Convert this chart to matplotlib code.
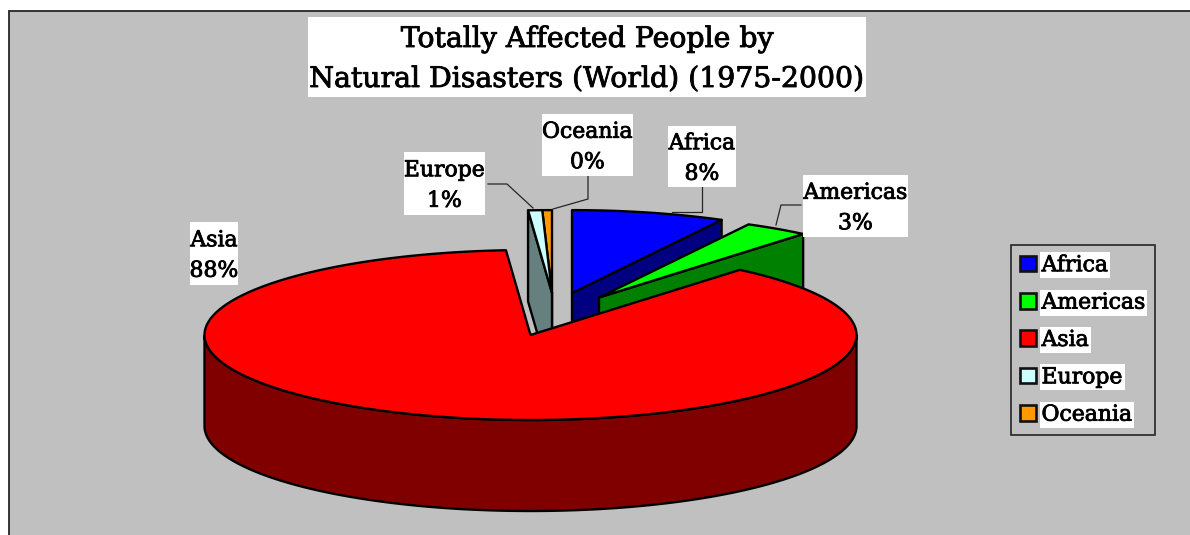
import numpy as np
import matplotlib
matplotlib.use("Agg")
import matplotlib.pyplot as plt
import matplotlib.patheffects as pe
from matplotlib.patches import Polygon, Rectangle, Patch

plt.rcParams['font.family'] = ['DejaVu Serif']

# ---- data ----
categories = ["Africa", "Americas", "Asia", "Europe", "Oceania"]
values = [7.8, 3.3, 87.7, 0.71, 0.49]
colors = ["#0000FF", "#00FF00", "#FF0000", "#CCFFFF", "#FF9900"]
side_colors = ["#000080", "#008000", "#800000", "#668080", "#804D00"]
title_lines = ["Totally Affected People by", "Natural Disasters (World) (1975-2000)"]

# ---- layout (pixels) ----
W, H = 1190, 535
CX, CY, RX, RY, DEPTH = 530.5, 335.0, 326.0, 85.0, 91.0
explode_px = [(41.5, -42), (68.5, -37.5), (0, 0), (21.5, -42), (21.5, -42)]
radius_scale = [0.975, 0.975, 1.0, 0.975, 0.975]
draw_order = [0, 1, 4, 3, 2]
label_boxes = [(668, 126, 736, 187), (803, 175, 908, 237), (190, 222, 238, 285),
               (404, 152, 485, 215), (542, 114, 633, 176)]
leaders = [
    [(702, 187), (702, 212), (672, 212)],
    [(801, 205), (781, 205), (776, 225)],
    None,
    [(488, 184), (507, 184), (533, 208)],
    [(588, 176), (588, 199), (553, 209)],
]
LW = 1.7
LABEL_SIZE = 15.8
heavier = [pe.withStroke(linewidth=0.6, foreground="black")]

fig = plt.figure(figsize=(W / 100, H / 100), dpi=100, facecolor="white")
ax = fig.add_axes([0, 0, 1, 1])
ax.set_xlim(0, W)
ax.set_ylim(H, 0)
ax.axis("off")

ax.add_patch(Rectangle((9, 11), W + 20, H + 20, fc="#C0C0C0", ec="#262626", lw=1.3, zorder=0))

# slice angles from the values, clockwise from twelve o'clock
fractions = np.array(values) / np.sum(values)
ends = 90 - 360 * np.cumsum(fractions)
starts = np.concatenate([[90.0], ends[:-1]])


def pt(angle, ox, oy, s, drop=0.0):
    t = np.radians(angle)
    return (ox + s * RX * np.cos(t), oy - s * RY * np.sin(t) + drop)


def add(points, fc, z):
    ax.add_patch(Polygon(points, closed=True, fc=fc, ec="black", lw=LW,
                         joinstyle="round", zorder=z))


z = 2
for i in draw_order:
    a0, a1, s = starts[i], ends[i], radius_scale[i]
    ox, oy = CX + explode_px[i][0], CY + explode_px[i][1]
    apex = (ox, oy)
    apex_low = (ox, oy + DEPTH)
    arc_angles = np.linspace(a0, a1, max(int(abs(a0 - a1) * 1.5), 2) + 1)
    # radial faces that turn toward the viewer
    if np.cos(np.radians(a1)) > 0:
        add([apex, pt(a1, ox, oy, s), pt(a1, ox, oy, s, DEPTH), apex_low], side_colors[i], z)
        z += 1
    if np.cos(np.radians(a0)) < 0:
        add([apex, pt(a0, ox, oy, s), pt(a0, ox, oy, s, DEPTH), apex_low], side_colors[i], z)
        z += 1
    # outer rim, front half only
    front = arc_angles[np.sin(np.radians(arc_angles)) <= 0]
    if len(front) > 1:
        add([pt(a, ox, oy, s) for a in front] + [pt(a, ox, oy, s, DEPTH) for a in front[::-1]],
            side_colors[i], z)
        z += 1
    add([apex] + [pt(a, ox, oy, s) for a in arc_angles], colors[i], z)
    z += 1

# title
ax.add_patch(Rectangle((308, 17), 558, 80, fc="white", ec="none", zorder=30))
for line, y in zip(title_lines, (39.5, 79.5)):
    ax.text(587, y, line, ha="center", va="center", fontsize=20.4, zorder=31,
            path_effects=heavier)

# data labels
for name, v, (x0, y0, x1, y1), lead in zip(categories, values, label_boxes, leaders):
    ax.add_patch(Rectangle((x0, y0), x1 - x0, y1 - y0, fc="white", ec="none", zorder=30))
    ax.text((x0 + x1) / 2, (y0 + y1) / 2 + 2, f"{name}\n{v:.0f}%", ha="center", va="center",
            fontsize=LABEL_SIZE, linespacing=1.5, zorder=31, path_effects=heavier)
    if lead is not None:
        xs, ys = zip(*lead)
        ax.plot(xs, ys, color="#262626", lw=0.9, zorder=29)

# legend
handles = [Patch(fc=c, ec="#111111", lw=1.9) for c in colors]
leg = ax.legend(handles, categories, loc="upper left",
                bbox_to_anchor=(1011 / W, 1 - 245 / H), bbox_transform=ax.transAxes,
                fontsize=LABEL_SIZE, frameon=True, fancybox=False, framealpha=1,
                facecolor="#C0C0C0", edgecolor="#262626", borderaxespad=0,
                handlelength=0.72, handleheight=0.72, handletextpad=0.25,
                labelspacing=0.70, borderpad=0.42)
leg.get_frame().set_linewidth(1.2)
leg.set_zorder(40)
for t in leg.get_texts():
    t.set_bbox(dict(fc="white", ec="none", pad=1.5))
    t.set_path_effects(heavier)

fig.savefig("out.png", dpi=100, facecolor="white")
